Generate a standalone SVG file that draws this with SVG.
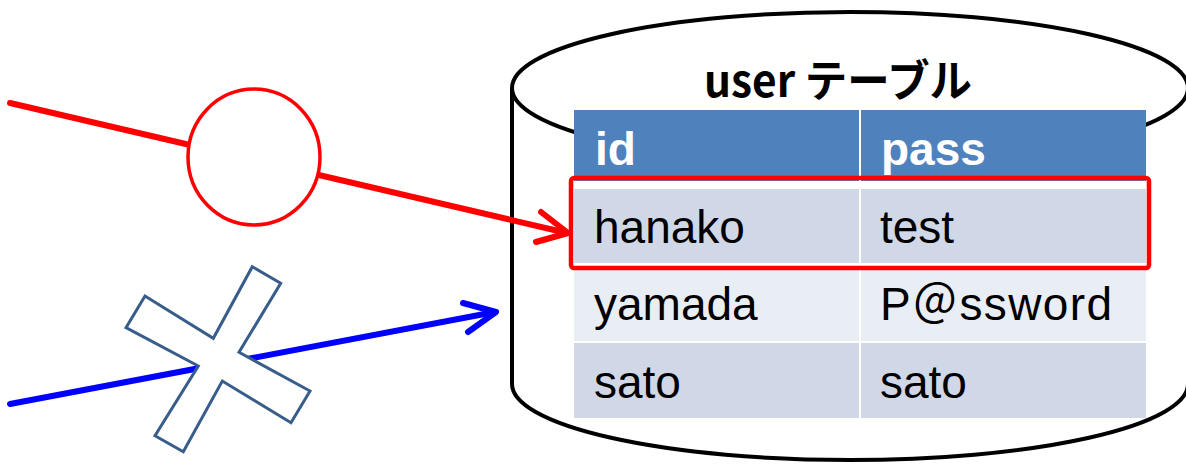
<svg xmlns="http://www.w3.org/2000/svg" width="1186" height="465" viewBox="0 0 1186 465">
<style>
.cell{font-family:"Liberation Sans","Noto Sans CJK JP",Arial,sans-serif;font-size:46px;fill:#000}
.head{font-family:"Liberation Sans",Arial,sans-serif;font-size:46px;font-weight:bold;fill:#fff}
.title{font-family:"Noto Sans CJK JP","Liberation Sans",sans-serif;font-size:44px;font-weight:bold;fill:#000}
.dark{fill:#D0D8E8}
.light{fill:#E9EDF4}
</style>
<rect width="1186" height="465" fill="#fff"/>
<g id="user-table">
  <path d="M512,88 L512,384 A338,76 0 0 0 1188,384 L1188,88" fill="#fff" stroke="#000" stroke-width="4"/>
  <ellipse cx="850" cy="88" rx="338" ry="76" fill="#fff" stroke="#000" stroke-width="4"/>
  <text class="title" x="704" y="97" textLength="268" lengthAdjust="spacingAndGlyphs">user テーブル</text>
  <rect x="574" y="110" width="572" height="71" fill="#4F81BD"/>
  <rect x="574" y="181" width="572" height="8" fill="#fff"/>
  <rect class="dark" x="574" y="189" width="285" height="74"/>
  <rect class="dark" x="861" y="189" width="285" height="74"/>
  <rect class="light" x="574" y="266" width="285" height="75"/>
  <rect class="light" x="861" y="266" width="285" height="75"/>
  <rect class="dark" x="574" y="343" width="285" height="75"/>
  <rect class="dark" x="861" y="343" width="285" height="75"/>
  <rect x="859" y="110" width="2" height="71" fill="#fff"/>
  <text class="head" x="595" y="165">id</text>
  <text class="head" x="881" y="165">pass</text>
  <text class="cell" x="594" y="243">hanako</text>
  <text class="cell" x="880" y="243">test</text>
  <text class="cell" x="594" y="320">yamada</text>
  <text class="cell" x="880" y="320" textLength="232" lengthAdjust="spacing">P＠ssword</text>
  <text class="cell" x="594" y="398">sato</text>
  <text class="cell" x="880" y="398">sato</text>
  <rect x="571" y="178" width="578" height="90" rx="3" fill="none" stroke="#FF0000" stroke-width="4.5"/>
</g>
<g id="connectors" fill="none" stroke-linecap="round" stroke-linejoin="round">
  <path d="M10,103 L567,233" stroke="#FF0000" stroke-width="6"/>
  <path d="M541,212 L568,233 L536,242" stroke="#FF0000" stroke-width="6"/>
  <path d="M10,404 L495,312" stroke="#0000FF" stroke-width="6"/>
  <path d="M463,303 L496,312 L468,332" stroke="#0000FF" stroke-width="6"/>
</g>
<g id="ok-mark">
  <ellipse cx="254" cy="157" rx="66" ry="68" fill="#fff" stroke="#FF0000" stroke-width="3.5"/>
</g>
<g id="ng-mark">
  <polygon points="252.3,266.7 280.7,283.3 239,352.3 310,391 291,422.7 222.3,381 183.3,451.7 155,435.7 198.3,366 126,327.7 145,296 213.3,338.3" fill="#fff" stroke="#385D8A" stroke-width="3"/>
</g>
</svg>
